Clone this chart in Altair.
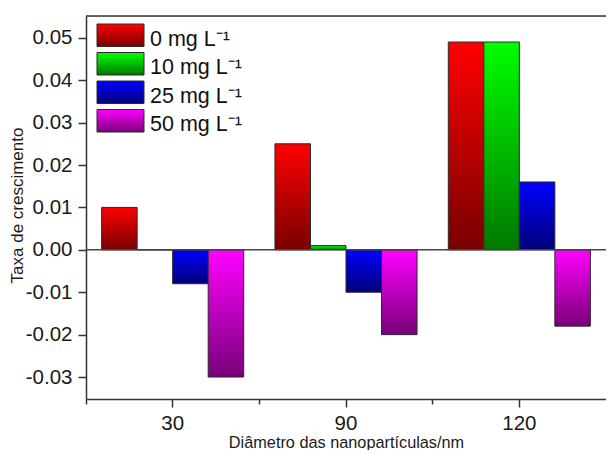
import altair as alt
import pandas as pd

# ---- data ----
sizes = ["30", "90", "120"]
series = ["0 mg L⁻¹", "10 mg L⁻¹", "25 mg L⁻¹", "50 mg L⁻¹"]
v0 = [0.010, 0.025, 0.049]
v10 = [0.000, 0.001, 0.049]
v25 = [-0.008, -0.010, 0.016]
v50 = [-0.030, -0.020, -0.018]
values = [v0, v10, v25, v50]

y_ticks = [-0.03, -0.02, -0.01, 0.00, 0.01, 0.02, 0.03, 0.04, 0.05]
y_minor = [-0.025, -0.015, -0.005, 0.005, 0.015, 0.025, 0.035, 0.045]

# ---- style ----
top_colors = ["#ff0000", "#00ff00", "#0000ff", "#ff00ff"]
bottom_colors = ["#780000", "#007800", "#000078", "#780078"]
FONT = "Liberation Sans"
W, H = 520, 383
Y_DOMAIN = [-0.03518, 0.05514]

rows = []
for s, vals in zip(series, values):
    for size, v in zip(sizes, vals):
        rows.append({"size": size, "series": s, "value": v})
df = pd.DataFrame(rows)


def grad(i):
    return alt.LinearGradient(
        gradient="linear", x1=0, y1=0, x2=0, y2=1,
        stops=[alt.GradientStop(color=top_colors[i], offset=0),
               alt.GradientStop(color=bottom_colors[i], offset=1)],
    )


yscale = alt.Scale(domain=Y_DOMAIN, nice=False, zero=False)
xscale = alt.Scale(paddingInner=0, paddingOuter=0)
xoff_scale = alt.Scale(domain=series, paddingInner=0, paddingOuter=0.44)

major_y_axis = alt.Axis(
    values=y_ticks, title="Taxa de crescimento", grid=False,
    labelExpr="(datum.value < -0.0001 ? '-' : '') + format(abs(datum.value), '.2f')",
    tickSize=8, labelPadding=6, labelFont=FONT, labelFontSize=20.5,
    labelColor="#1a1a1a", titleFont=FONT, titleFontSize=17,
    titleFontWeight="normal", titleColor="#1a1a1a",
    titleX=-63.5, titleY=189, titleAlign="center", titleBaseline="alphabetic", titleAngle=270,
    domainColor="#333333", tickColor="#333333", domainWidth=1.5, tickWidth=1.5,
)
minor_y_axis = alt.Axis(
    values=y_minor, title=None, labels=False, grid=False, domain=False,
    tickSize=4, tickColor="#333333", tickWidth=1.5,
)
major_x_axis = alt.Axis(
    title="Diâmetro das nanopartículas/nm", labelAngle=0, grid=False,
    tickSize=8, labelPadding=6, labelFont=FONT, labelFontSize=20.5,
    labelColor="#1a1a1a", titleFont=FONT, titleFontSize=16.3,
    titleFontWeight="normal", titleColor="#1a1a1a", titlePadding=1,
    domainColor="#333333", tickColor="#333333", domainWidth=1.5, tickWidth=1.5,
    orient="bottom",
)
minor_x_axis = alt.Axis(
    title=None, labels=False, grid=False, domain=False, bandPosition=0,
    tickSize=5, tickColor="#333333", tickWidth=1.5, orient="bottom",
)

layers = []
for i, s in enumerate(series):
    if i == 0:
        xa, ya = major_x_axis, major_y_axis
    elif i == 1:
        xa, ya = minor_x_axis, minor_y_axis
    else:
        xa, ya = None, None
    bars = alt.Chart(df[df["series"] == s]).mark_bar(
        fill=grad(i), stroke="#2a2a2a", strokeWidth=1
    ).encode(
        x=alt.X("size:N", sort=sizes, scale=xscale, axis=xa),
        xOffset=alt.XOffset("series:N", sort=series, scale=xoff_scale),
        y=alt.Y("value:Q", scale=yscale, axis=ya),
    )
    layers.append(bars)

# zero line and top frame line
zero = alt.Chart(pd.DataFrame({"z": [0.0]})).mark_rule(
    color="#444444", strokeWidth=1.5
).encode(y=alt.Y("z:Q", scale=yscale, axis=None), x=alt.value(0), x2=alt.value(W))
frame_top = alt.Chart(pd.DataFrame({"z": [0]})).mark_rule(
    color="#333333", strokeWidth=1.5
).encode(x=alt.value(0), x2=alt.value(W), y=alt.value(0))
layers += [zero, frame_top]

# legend (swatches with gradients + labels)
for i, s in enumerate(series):
    one = pd.DataFrame({"label": [s]})
    top = 8 + i * 28.5
    sw = alt.Chart(one).mark_rect(
        fill=grad(i), stroke="#2a2a2a", strokeWidth=1
    ).encode(x=alt.value(11), x2=alt.value(58), y=alt.value(top), y2=alt.value(top + 22.5))
    tx = alt.Chart(one).mark_text(
        align="left", baseline="alphabetic", font=FONT, fontSize=21.5, color="#111111"
    ).encode(x=alt.value(64), y=alt.value(29.7 + i * 28.4), text="label:N")
    layers += [sw, tx]

chart = alt.layer(*layers).resolve_axis(x="independent", y="independent").properties(
    width=W, height=H,
    autosize=alt.AutoSizeParams(type="none"),
    padding={"left": 78, "top": 8, "right": 0, "bottom": 51},
).configure_view(strokeWidth=0).configure(background="white")

chart.save("out.html", embed_options={"renderer": "svg", "actions": False})
